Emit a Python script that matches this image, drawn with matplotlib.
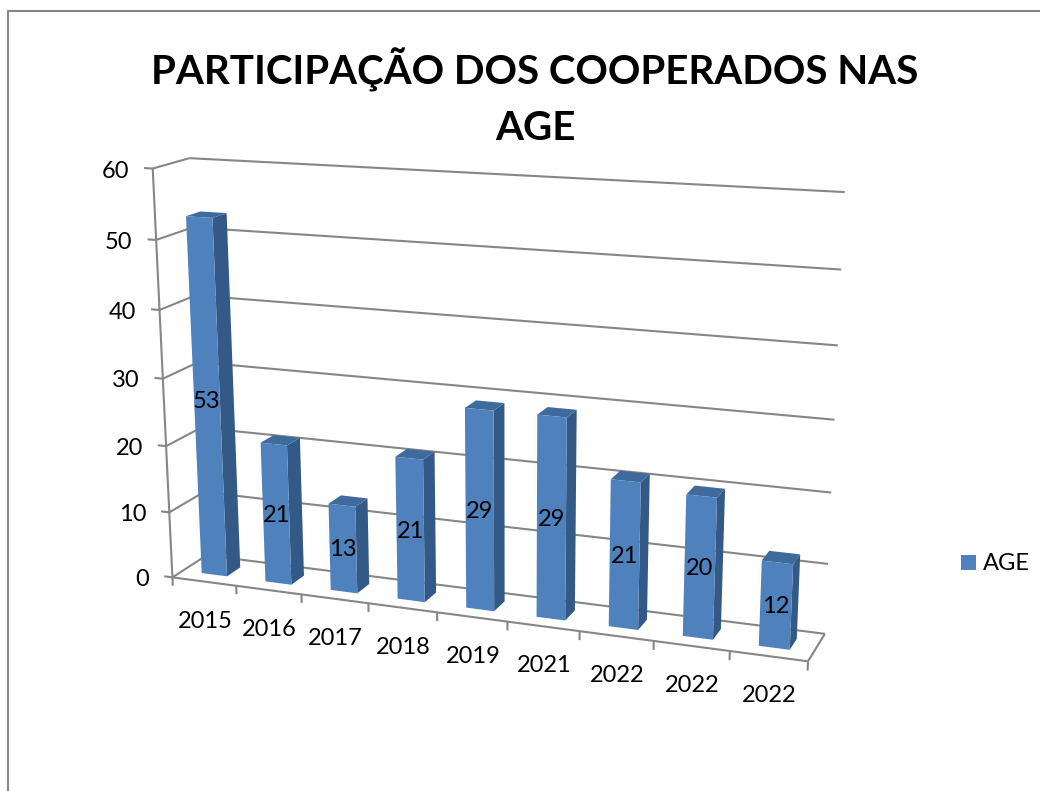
#!/usr/bin/env python3
# 3D style column chart, drawn on a pixel sized axes with a small camera fit
import matplotlib
matplotlib.use('Agg')
import matplotlib.pyplot as plt
from matplotlib.patches import Patch, Polygon
import numpy as np

plt.rcParams['font.family'] = ['Lato', 'DejaVu Sans']

title = 'PARTICIPAÇÃO DOS COOPERADOS NAS\nAGE'
years = ['2015', '2016', '2017', '2018', '2019', '2021', '2022', '2022', '2022']
age = [53, 21, 13, 21, 29, 29, 21, 20, 12]
y_ticks = [0, 10, 20, 30, 40, 50, 60]
series_name = 'AGE'

FRONT = '#4F81BD'
SIDE = '#335A87'
TOP = '#3E6A9C'
GRID = '#868686'

# (category position, value, depth) -> pixel seen in the picture
anchors = [
    ((0, 0, 0), (172, 577)),
    ((9, 0, 0), (808, 662)),
    ((0, 0, 1), (207, 556)),
    ((9, 0, 1), (825, 633)),
    ((0, 60, 0), (153, 169)),
    ((0, 30, 0), (163, 378)),
    ((0, 60, 1), (189, 158)),
    ((9, 60, 1), (845, 192)),
    ((9, 30, 1), (834, 420)),
]


def fit_camera(points):
    rows = []
    for (u, v, w), (px, py) in points:
        rows.append([u, v, w, 1, 0, 0, 0, 0, -px * u, -px * v, -px * w, -px])
        rows.append([0, 0, 0, 0, u, v, w, 1, -py * u, -py * v, -py * w, -py])
    return np.linalg.svd(np.array(rows, dtype=float))[2][-1].reshape(3, 4)


camera = fit_camera(anchors)


def proj(u, v, w):
    x, y, s = camera @ np.array([u, v, w, 1.0])
    return x / s, y / s


def line3(ax, a, b):
    pa, pb = proj(*a), proj(*b)
    ax.plot([pa[0], pb[0]], [pa[1], pb[1]], color=GRID, lw=1.5, solid_capstyle='butt', zorder=1)


fig = plt.figure(figsize=(10.4, 7.91), dpi=100)
ax = fig.add_axes([0, 0, 1, 1])
ax.set_xlim(0, 1040)
ax.set_ylim(791, 0)
ax.axis('off')

# chart frame, cut by the picture on the right and bottom
ax.plot([7.5, 7.5, 1040], [791, 10.5, 10.5], color=GRID, lw=1.5, zorder=1)

ax.text(535, 97.5, title, ha='center', va='center', fontsize=29, fontweight='bold',
        color='black', linespacing=1.58)

# walls and floor
n = len(years)
for t in y_ticks:
    line3(ax, (0, t, 0), (0, t, 1))
    line3(ax, (0, t, 1), (n, t, 1))
    line3(ax, (-0.13, t, 0), (0, t, 0))
    px, py = proj(-0.13, t, 0)
    ax.text(px - 15, py + 3, str(t), ha='right', va='center', fontsize=17)
line3(ax, (0, 0, 0), (0, 60, 0))
line3(ax, (0, 0, 0), (n, 0, 0))
line3(ax, (n, 0, 0), (n, 0, 1))
for i in range(n + 1):
    line3(ax, (i, 0, 0), (i, -1.3, 0))

# bars, left to right
for i, v in enumerate(age):
    u0, u1 = i + 0.3, i + 0.7
    w0, w1 = 0.3, 0.7
    front = [proj(u0, 0, w0), proj(u1, 0, w0), proj(u1, v, w0), proj(u0, v, w0)]
    side = [proj(u1, 0, w0), proj(u1, 0, w1), proj(u1, v, w1), proj(u1, v, w0)]
    top = [proj(u0, v, w0), proj(u1, v, w0), proj(u1, v, w1), proj(u0, v, w1)]
    ax.add_patch(Polygon(side, closed=True, fc=SIDE, ec='none', zorder=2))
    ax.add_patch(Polygon(top, closed=True, fc=TOP, ec='none', zorder=2))
    ax.add_patch(Polygon(front, closed=True, fc=FRONT, ec='none', zorder=2))
    px, py = proj(i + 0.5, v / 2, w0)
    ax.text(px, py + 1, str(v), ha='center', va='center', fontsize=17, color='black', zorder=3)
    px, py = proj(i + 0.5, 0, 0)
    ax.text(px + 1, py + 39.5, years[i], ha='center', va='center', fontsize=17)

ax.legend(handles=[Patch(fc=FRONT, ec='none', label=series_name)], loc='center left',
          bbox_to_anchor=(940 / 1040, 1 - 564 / 791), frameon=False, fontsize=17,
          handlelength=0.62, handleheight=0.62, handletextpad=0.28)

fig.savefig('out.png', dpi=100)
